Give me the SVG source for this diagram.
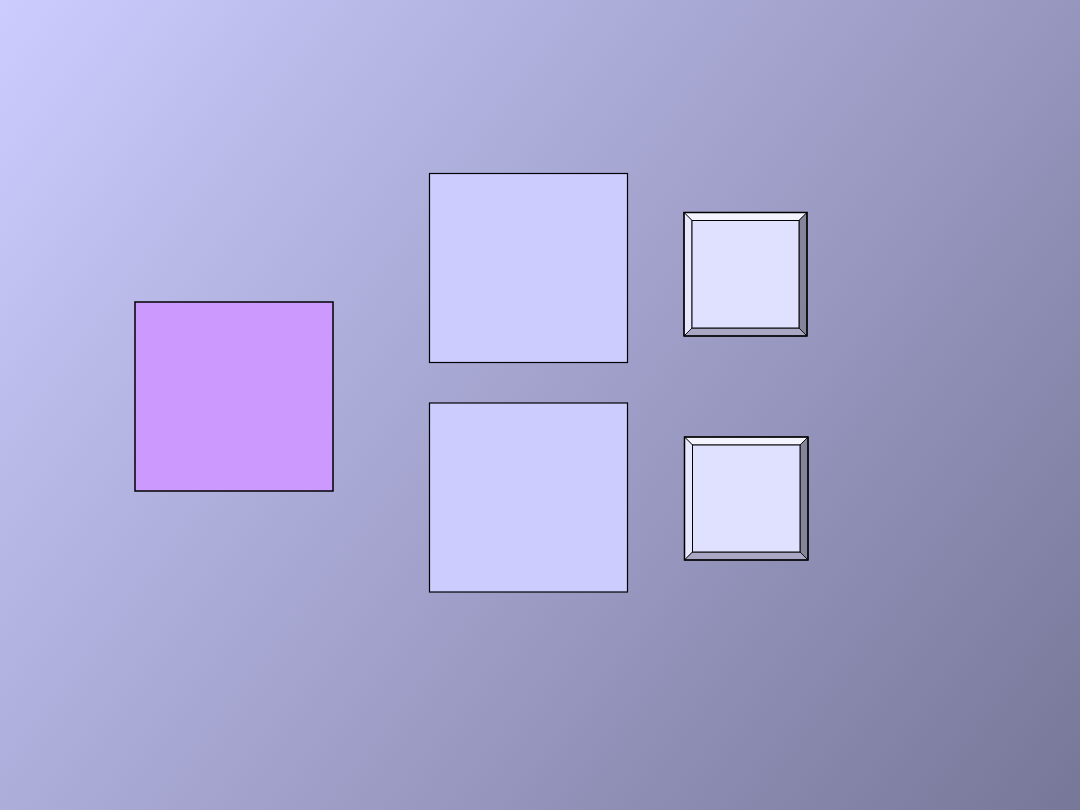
<svg xmlns="http://www.w3.org/2000/svg" width="1080" height="810" viewBox="0 0 1080 810">
<defs>
<linearGradient id="bg" x1="0" y1="0" x2="1080" y2="810" gradientUnits="userSpaceOnUse">
<stop offset="0" stop-color="#ccccff"/>
<stop offset="1" stop-color="#777799"/>
</linearGradient>
</defs>
<style>
.box{fill:#ccccff;stroke:#000;stroke-width:1.2}
.purple{fill:#cc99ff;stroke:#000;stroke-width:1.5}
.bev{stroke:#000;stroke-width:0.8;stroke-linejoin:round}
.face{fill:#e0e0ff;stroke:#000;stroke-width:1}
.outer{fill:none;stroke:#000;stroke-width:1.5}
</style>
<rect width="1080" height="810" fill="url(#bg)"/>
<g id="node-purple"><rect class="purple" x="135" y="302" width="198" height="189"/></g>
<g id="node-top"><rect class="box" x="429.5" y="173.5" width="198" height="189"/></g>
<g id="node-bottom"><rect class="box" x="429.5" y="403" width="198" height="189"/></g>
<g id="node-bevel-top">
<polygon class="bev" fill="#f4f4ff" points="684,212.5 807,212.5 799,220.5 692,220.5"/>
<polygon class="bev" fill="#e8e8ff" points="684,212.5 692,220.5 692,328 684,336"/>
<polygon class="bev" fill="#858599" points="807,212.5 807,336 799,328 799,220.5"/>
<polygon class="bev" fill="#a8a8c4" points="684,336 692,328 799,328 807,336"/>
<rect class="face" x="692" y="220.5" width="107" height="107.5"/>
<rect class="outer" x="684" y="212.5" width="123" height="123.5"/>
</g>
<g id="node-bevel-bottom">
<polygon class="bev" fill="#f4f4ff" points="684.5,437 808,437 800,445 692.5,445"/>
<polygon class="bev" fill="#e8e8ff" points="684.5,437 692.5,445 692.5,552 684.5,560"/>
<polygon class="bev" fill="#858599" points="808,437 808,560 800,552 800,445"/>
<polygon class="bev" fill="#a8a8c4" points="684.5,560 692.5,552 800,552 808,560"/>
<rect class="face" x="692.5" y="445" width="107.5" height="107"/>
<rect class="outer" x="684.5" y="437" width="123.5" height="123"/>
</g>
<g id="connectors"/>
</svg>
